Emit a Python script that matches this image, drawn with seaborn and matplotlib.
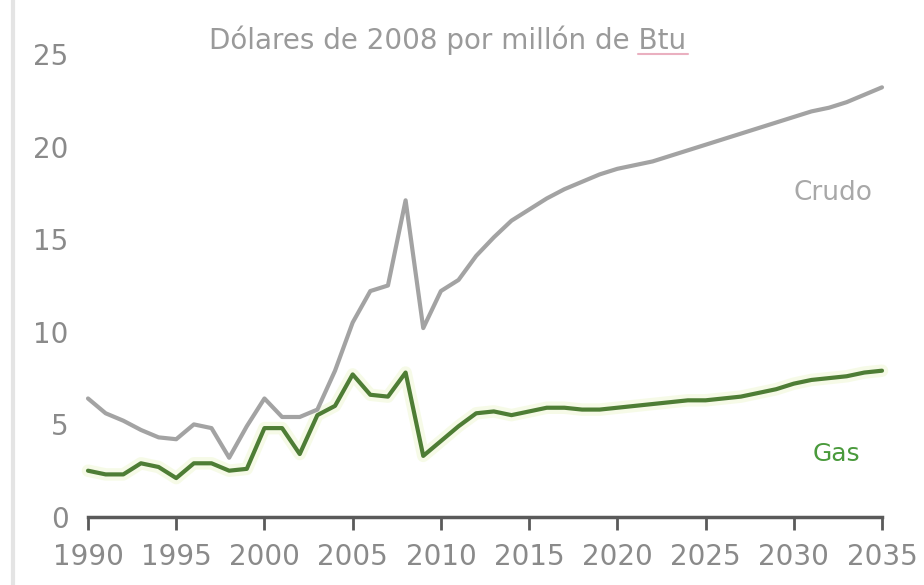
import numpy as np
import pandas as pd
import seaborn as sns
import matplotlib.pyplot as plt
from matplotlib.lines import Line2D

# Precios en dólares de 2008 por millón de Btu
years = list(range(1990, 2036))
crudo = [6.4, 5.6, 5.2, 4.7, 4.3, 4.2, 5.0, 4.8, 3.2, 4.9,
         6.4, 5.4, 5.4, 5.8, 7.9, 10.5, 12.2, 12.5, 17.1, 10.2,
         12.2, 12.8, 14.1, 15.1, 16.0, 16.6, 17.2, 17.7, 18.1, 18.5,
         18.8, 19.0, 19.2, 19.5, 19.8, 20.1, 20.4, 20.7, 21.0, 21.3,
         21.6, 21.9, 22.1, 22.4, 22.8, 23.2]
gas = [2.5, 2.3, 2.3, 2.9, 2.7, 2.1, 2.9, 2.9, 2.5, 2.6,
       4.8, 4.8, 3.4, 5.5, 6.0, 7.7, 6.6, 6.5, 7.8, 3.3,
       4.1, 4.9, 5.6, 5.7, 5.5, 5.7, 5.9, 5.9, 5.8, 5.8,
       5.9, 6.0, 6.1, 6.2, 6.3, 6.3, 6.4, 6.5, 6.7, 6.9,
       7.2, 7.4, 7.5, 7.6, 7.8, 7.9]
x_ticks = list(range(1990, 2036, 5))
y_ticks = [0, 5, 10, 15, 20, 25]
titulo = "Dólares de 2008 por millón de Btu"

df = pd.DataFrame({
    "Año": years * 2,
    "Precio": crudo + gas,
    "Serie": ["Crudo"] * len(years) + ["Gas"] * len(years),
})

sns.set_theme(style="white")
plt.rcParams["font.family"] = ["DejaVu Sans"]

W, H = 924, 585
fig = plt.figure(figsize=(W / 100, H / 100), dpi=100)
left, right, bottom, top = 88, 882, 517, 54
ax = fig.add_axes([left / W, (H - bottom) / H, (right - left) / W, (bottom - top) / H])

gris_txt = "#8a8a8a"
col_crudo = "#a3a3a3"
col_gas = "#4e7d35"

# halo claro alrededor de la línea del gas
ax.plot(years, gas, color="#f0f8d8", lw=9, alpha=0.6, solid_capstyle="round", zorder=1, clip_on=False)

sns.lineplot(data=df, x="Año", y="Precio", hue="Serie",
             palette={"Crudo": col_crudo, "Gas": col_gas},
             lw=3, legend=False, ax=ax, zorder=3, clip_on=False)

ax.set_xlim(1990, 2035)
ax.set_ylim(0, 25)
ax.set_xticks(x_ticks)
ax.set_yticks(y_ticks)
ax.set_xlabel("")
ax.set_ylabel("")

for s in ["top", "right", "left"]:
    ax.spines[s].set_visible(False)
ax.spines["bottom"].set_color("#5a5a5a")
ax.spines["bottom"].set_linewidth(2.5)

ax.tick_params(axis="x", direction="out", length=9, width=2, color="#5a5a5a",
               pad=10, labelsize=20, labelcolor=gris_txt)
ax.tick_params(axis="y", length=0, pad=14, labelsize=20, labelcolor=gris_txt)
ax.tick_params(axis="x", bottom=True)

# etiquetas de las series
ax.text(2032.2, 17.5, "Crudo", fontsize=19, color="#a8a8a8", ha="center", va="center")
ax.text(2032.4, 3.4, "Gas", fontsize=18, color="#4a9a3c", ha="center", va="center")

# título de la unidad
fig.text(448 / W, 1 - 40 / H, titulo, fontsize=20, color="#9a9a9a", ha="center", va="center")
# subrayado de revisión ortográfica bajo «Btu»
fig.add_artist(Line2D([638 / W, 688 / W], [1 - 54 / H, 1 - 54 / H], color="#eab0c0", lw=1.5))

# marco izquierdo tenue
fig.add_artist(Line2D([13 / W, 13 / W], [0, 1], color="#e4e4e4", lw=3))

fig.savefig("out.png", dpi=100)
